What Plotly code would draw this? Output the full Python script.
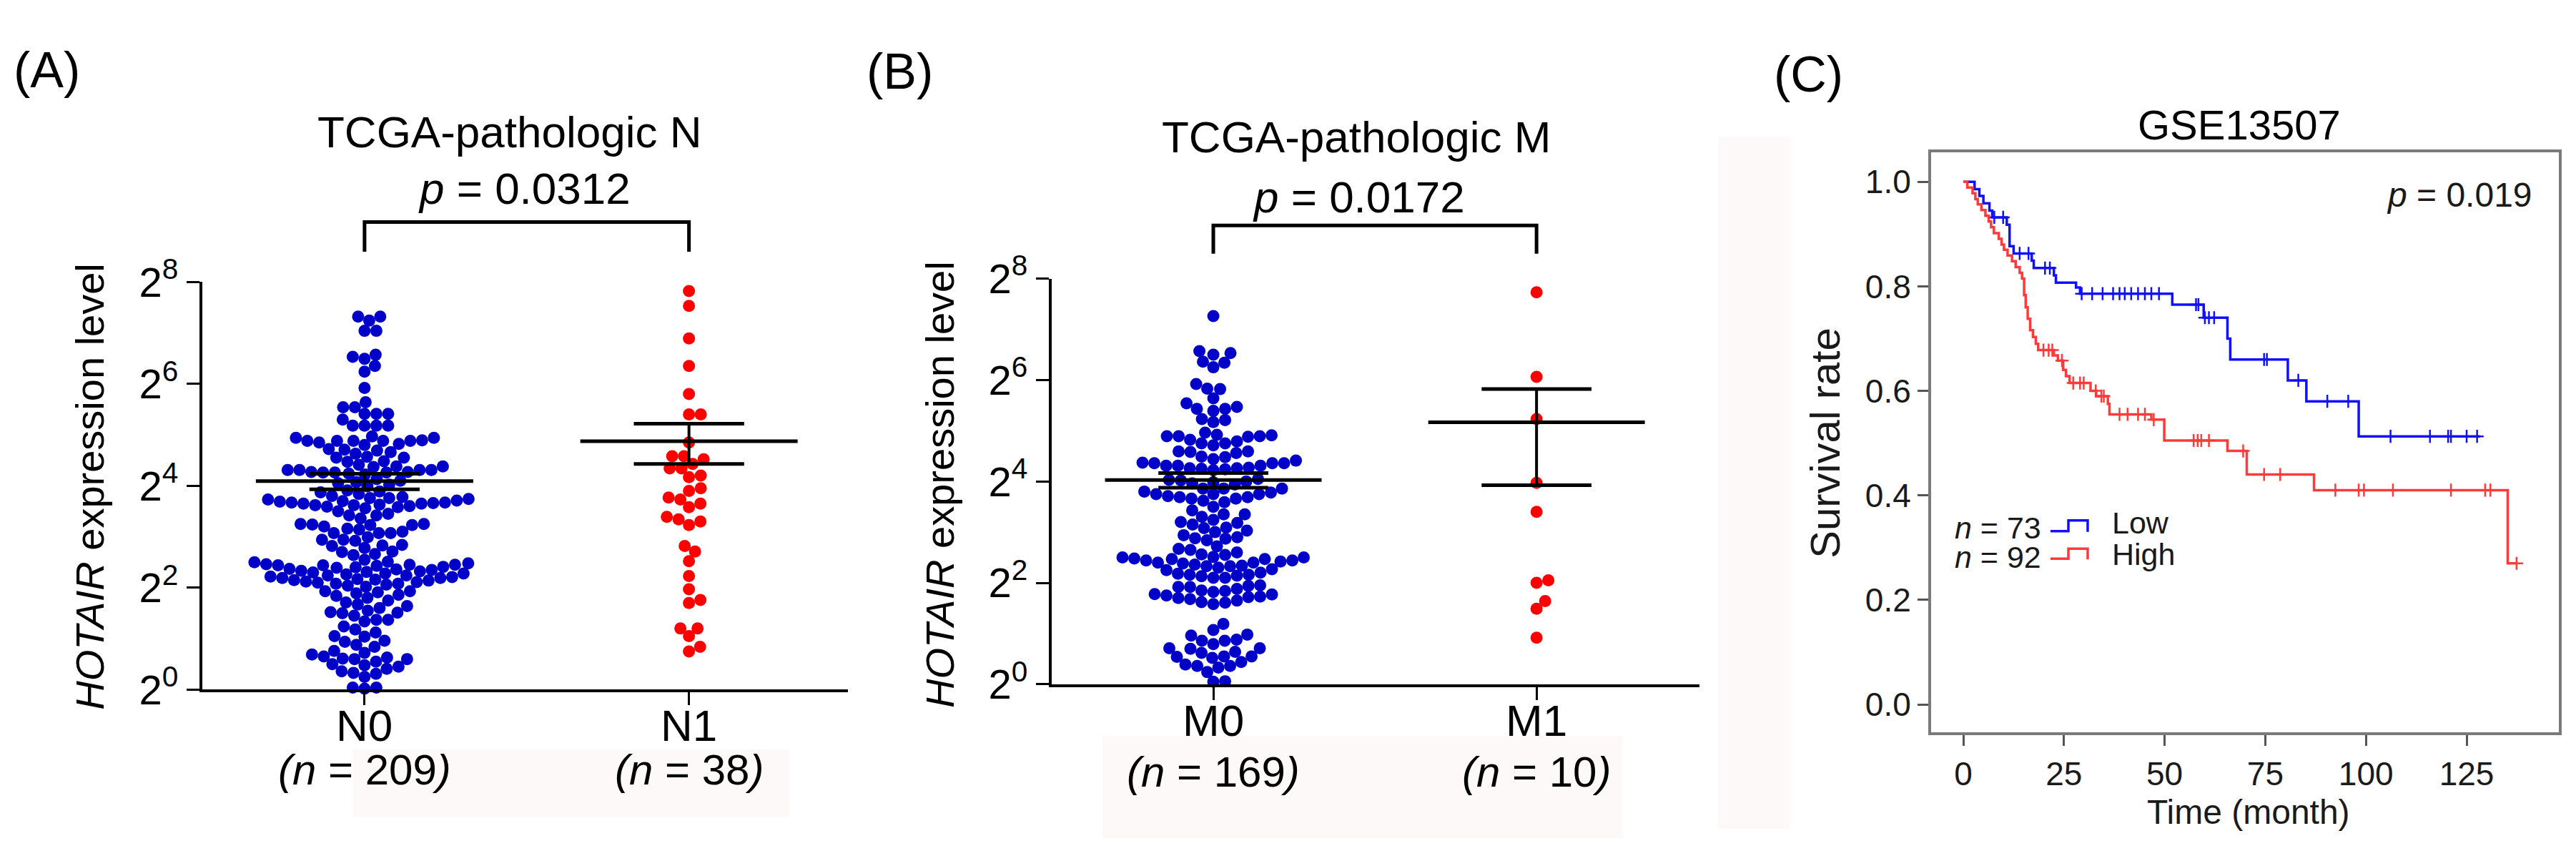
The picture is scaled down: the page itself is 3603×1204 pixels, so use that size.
import numpy as np
import plotly.graph_objects as go

W, H = 3603, 1204
FONT = "Liberation Sans, Arial, Helvetica, sans-serif"

# ---------------- data (log2 expression values) ----------------
n0_vals = [7.32, 7.24, 7.32, 7.04, 7.04, 6.53, 6.57, 6.49, 6.35, 6.24, 5.92, 5.64, 5.54, 5.54,
           5.41, 5.41, 5.41, 5.30, 5.18, 5.18, 5.18, 5.18,
           4.97, 4.94, 4.89, 4.88, 4.88, 4.82, 4.72, 4.69, 4.71, 4.80, 4.85, 4.88, 4.88, 4.88, 4.94,
           4.66, 4.57, 4.55, 4.47, 4.55, 4.63, 4.48,
           4.31, 4.31, 4.27, 4.24, 4.22, 4.38, 4.37, 4.31, 4.38, 4.41, 4.26, 4.26, 4.26, 4.27, 4.31,
           4.13, 4.10, 4.07, 4.05, 4.02, 3.99,
           3.89, 3.91, 3.78, 3.76, 3.71, 3.67, 3.65, 3.62, 3.56, 3.58, 3.62, 3.65, 3.67, 3.69, 3.73,
           3.76, 3.80, 3.87, 3.60, 3.63, 3.70, 3.74, 3.84, 3.59, 3.66,
           3.50, 3.42, 3.36, 3.42, 3.45,
           3.14, 3.07, 3.07, 3.25, 3.23, 3.20, 3.23, 3.24, 3.25, 3.07, 3.10, 3.16,
           2.94, 2.92, 2.82, 2.83, 2.84, 2.94, 2.99, 2.78,
           2.70, 2.64, 2.66, 2.71, 2.55,
           2.50, 2.46, 2.45, 2.45, 2.48, 2.51,
           2.44, 2.37, 2.35, 2.32, 2.28, 2.24, 2.19, 2.16, 2.12, 2.08, 2.08, 2.11, 2.15, 2.19, 2.24,
           2.28, 2.33, 2.36, 2.41, 2.44, 2.10, 2.14, 2.21, 2.26, 2.30, 2.39, 2.17, 2.06, 2.40,
           2.02, 2.04, 2.22, 2.31, 2.43,
           1.93, 1.93, 1.91, 1.84, 1.89, 1.80, 1.86,
           1.75, 1.67, 1.60, 1.64, 1.71, 1.51, 1.50, 1.52, 1.55, 1.45,
           1.37, 1.34, 1.37, 1.24,
           1.04, 0.96, 0.94, 1.05, 1.18, 1.12,
           0.84, 0.76, 0.69, 0.63, 0.61, 0.55, 0.60, 0.60, 0.65, 0.88, 0.72,
           0.48, 0.41, 0.50, 0.36, 0.31, 0.25, 0.33, 0.45,
           0.04, 0.02, 0.04]

n1_vals = [7.82, 7.53, 6.89, 6.35, 5.80, 5.40, 5.40, 4.58, 4.58, 4.52, 4.43, 4.34, 4.17, 4.34,
           3.95, 3.77, 3.65, 3.73, 3.90, 3.58, 3.39, 3.30, 3.23, 3.34, 2.71, 2.52, 2.82, 2.23,
           1.97, 1.70, 1.76, 1.05, 1.20, 1.20, 0.75, 0.84, 4.85, 4.20]

m0_vals = [7.26, 6.53, 6.57, 6.50, 6.36, 6.34, 6.25, 5.83, 5.92, 5.82, 5.64, 5.54,
           5.47, 5.43, 5.39, 5.43, 5.23, 5.17, 5.21,
           4.96, 4.91, 4.89, 4.88, 4.79, 4.75, 4.71, 4.75, 4.82, 4.89, 4.89, 4.92,
           4.56, 4.48, 4.41, 4.59, 4.59, 4.44, 4.49, 4.58,
           4.26, 4.25, 4.31, 4.36, 4.31, 4.27, 4.31, 4.36, 4.36, 4.37, 4.24, 4.26, 4.22,
           4.02, 4.00, 4.05, 3.98, 4.03, 3.94, 3.96,
           3.78, 3.75, 3.71, 3.69, 3.66, 3.66, 3.69, 3.75, 3.75, 3.80, 3.86, 3.86, 3.86, 3.62,
           3.50, 3.59,
           3.43, 3.35, 3.24, 3.15, 3.09, 3.18, 3.30, 3.35, 3.20,
           3.03, 2.94, 2.87, 2.72, 2.67, 2.65, 2.84, 2.88, 3.00, 3.08, 2.90,
           2.56, 2.51, 2.50, 2.47, 2.44, 2.40, 2.33, 2.33, 2.36, 2.40, 2.44, 2.47, 2.50, 2.55, 2.34,
           2.42, 2.38, 2.60, 2.48,
           2.27, 2.18, 2.16, 2.13, 2.10, 2.10, 2.14, 2.16, 2.25, 2.20, 2.30,
           1.92, 1.84, 1.78, 1.73, 1.68, 1.61, 1.58, 1.65, 1.72, 1.77, 1.82, 1.85, 1.92, 1.94, 1.95,
           1.70, 1.75, 1.88, 1.62,
           1.19, 0.98, 0.88, 0.86, 0.86, 0.96, 1.07,
           0.79, 0.71, 0.64, 0.55, 0.52, 0.44, 0.54, 0.55, 0.70, 0.71, 0.62,
           0.39, 0.36, 0.24, 0.33, 0.36,
           0.06, 0.05]

m1_vals = [7.73, 6.06, 5.23, 3.97, 3.40, 2.05, 2.00, 1.64, 1.49, 0.92]

group_labels_A = ["N0", "N1"]
group_n_A = [209, 38]
group_labels_B = ["M0", "M1"]
group_n_B = [169, 10]
ytick_vals = [0, 2, 4, 6, 8]
ytick_text = ["2<sup>%d</sup>" % v for v in ytick_vals]

# Kaplan-Meier (GSE13507)
low_t = [0, 2.8, 4.0, 5.0, 6.5, 7.2, 10.8, 11.5, 12.5, 17.0, 17.5, 22.5, 23.0, 28.0, 29.0,
         51.9, 59.7, 65.6, 66.3, 80.6, 85.2, 98.2]
low_s = [1.0, 0.986, 0.973, 0.959, 0.945, 0.932, 0.918, 0.877, 0.863, 0.849, 0.835, 0.821,
         0.807, 0.798, 0.786, 0.765, 0.740, 0.700, 0.660, 0.620, 0.580, 0.513]
low_end = 128.3
low_cens = [7.7, 9.9, 14.0, 16.2, 20.3, 21.5, 29.4, 32.0, 34.6, 37.2, 38.8, 40.1, 41.7, 43.4,
            45.1, 46.7, 48.6, 57.8, 58.4, 60.0, 61.0, 62.3, 74.7, 75.4, 83.2, 90.4, 95.6,
            106.1, 115.9, 120.4, 121.1, 125.0, 127.6]

high_t = [0, 1.0, 2.3, 3.0, 3.6, 4.5, 5.5, 6.3, 6.9, 7.6, 8.8, 9.5, 10.1, 11.0, 12.1, 13.0,
          14.0, 14.6, 15.1, 15.5, 16.0, 16.6, 17.3, 18.0, 18.6, 22.5, 23.5, 24.8, 25.5, 26.4,
          31.6, 33.0, 35.9, 36.3, 46.7, 49.9, 65.6, 70.4, 87.1, 135.2]
high_s = [1.0, 0.989, 0.978, 0.967, 0.957, 0.946, 0.935, 0.924, 0.913, 0.902, 0.891, 0.880,
          0.870, 0.859, 0.848, 0.837, 0.826, 0.815, 0.783, 0.760, 0.738, 0.716, 0.703, 0.690,
          0.678, 0.668, 0.658, 0.640, 0.628, 0.615, 0.600, 0.590, 0.575, 0.555, 0.545, 0.505,
          0.485, 0.440, 0.410, 0.270]
high_end = 137.4
high_cens = [19.9, 21.2, 22.1, 24.5, 27.3, 29.0, 29.9, 32.9, 34.3, 34.9, 38.8, 40.8, 43.4,
             45.1, 47.3, 57.2, 58.2, 59.1, 61.0, 69.5, 74.7, 78.7, 92.4, 98.2, 99.5, 106.7,
             121.1, 129.6, 130.9, 137.4]

# ---------------- layout geometry (pixels) ----------------
def PX(x):
    return x / W


def PY(y):
    return 1 - y / H


panelA = dict(x0=283, x1=1186, y0=983, y1=376, xr=(-0.5, 1.49), yr=(0, 8))
panelB = dict(x0=1471, x1=2377, y0=975, y1=371, xr=(-0.5, 1.504), yr=(0, 8))
panelC = dict(x0=2701, x1=3579, y0=1046, y1=183, xr=(-7.99, 147.9), yr=(-0.0527, 1.0566))

BLUE_DOT = "#0000C8"
RED_DOT = "#FF0000"


def swarm(vals, xppu, yppu, d=16.5):
    v = np.asarray(vals, float)
    order = np.argsort(v, kind="stable")
    cand = np.array([0.0] + [s * k * 0.5 for k in range(1, 700) for s in (1, -1)])
    pxs, pys = [], []
    off = np.zeros(len(v))
    for i in order:
        y = v[i] * yppu
        c = 0.0
        if pxs:
            P = np.array(pxs)
            Q = np.array(pys)
            m = np.abs(Q - y) < d
            if m.any():
                P, Q = P[m], Q[m]
                ok = ((cand[:, None] - P[None, :]) ** 2 + (y - Q[None, :]) ** 2 >= d * d).all(axis=1)
                c = cand[np.argmax(ok)]
        off[i] = c
        pxs.append(c)
        pys.append(y)
    return off / xppu


def mean_sem(vals):
    lin = 2.0 ** np.asarray(vals, float)
    m = lin.mean()
    s = lin.std(ddof=1) / np.sqrt(len(lin))
    return np.log2(m), np.log2(m + s), np.log2(m - s)


fig = go.Figure()

annotations = []
shapes = []


def ann(text, x, y, size, xanchor="center", yanchor="middle", xref="paper", angle=0, color="#000"):
    annotations.append(dict(text=text, x=x, y=y, xref=xref, yref="paper", showarrow=False,
                            xanchor=xanchor, yanchor=yanchor, textangle=angle,
                            font=dict(family=FONT, size=size, color=color)))


def dot_panel(p, xa, ya, groups, labels, ns, title, title_y, ptext, ptext_y, ptext_x, title_x,
              lab_y, n_y, ytitle_x, ytitle_y, brk):
    xppu = (p["x1"] - p["x0"]) / (p["xr"][1] - p["xr"][0])
    yppu = (p["y0"] - p["y1"]) / (p["yr"][1] - p["yr"][0])
    xn = "x" if xa == "xaxis" else "x" + xa[5:]
    yn = "y" if ya == "yaxis" else "y" + ya[5:]
    for gi, (vals, col) in enumerate(zip(groups, [BLUE_DOT, RED_DOT])):
        off = swarm(vals, xppu, yppu)
        fig.add_trace(go.Scatter(x=gi + off, y=vals, mode="markers", xaxis=xn, yaxis=yn,
                                 marker=dict(size=17, color=col, line=dict(width=0)),
                                 cliponaxis=False, showlegend=False, hoverinfo="skip"))
    for gi, vals in enumerate(groups):
        mu, hi, lo = mean_sem(vals)
        line = dict(color="black", width=5)
        fig.add_trace(go.Scatter(x=[gi - 0.335, gi + 0.335], y=[mu, mu], mode="lines",
                                 xaxis=xn, yaxis=yn, line=line, showlegend=False, hoverinfo="skip"))
        for yy in (hi, lo):
            fig.add_trace(go.Scatter(x=[gi - 0.17, gi + 0.17], y=[yy, yy], mode="lines",
                                     xaxis=xn, yaxis=yn, line=line, showlegend=False,
                                     hoverinfo="skip"))
        fig.add_trace(go.Scatter(x=[gi, gi], y=[lo, hi], mode="lines", xaxis=xn, yaxis=yn,
                                 line=dict(color="black", width=4), showlegend=False,
                                 hoverinfo="skip"))
    axstyle = dict(showline=True, linecolor="black", linewidth=4, ticks="outside", ticklen=18,
                   tickwidth=3, tickcolor="black", showgrid=False, zeroline=False, fixedrange=True)
    fig.update_layout(**{
        xa: dict(domain=[PX(p["x0"]), PX(p["x1"])], range=list(p["xr"]), tickvals=[0, 1],
                 showticklabels=False, anchor=yn, **axstyle),
        ya: dict(domain=[PY(p["y0"]), PY(p["y1"])], range=list(p["yr"]), tickvals=ytick_vals,
                 ticktext=ytick_text, anchor=xn,
                 tickfont=dict(family=FONT, size=58, color="black"), **axstyle),
    })
    for gi in range(2):
        ann(labels[gi], gi, PY(lab_y), 62, xref=xn)
        ann("<i>(n</i> = %d<i>)</i>" % ns[gi], gi, PY(n_y), 60, xref=xn)
    ann(title, PX(title_x), PY(title_y), 62)
    ann(ptext, PX(ptext_x), PY(ptext_y), 62)
    ann("<i>HOTAIR</i> expression level", PX(ytitle_x), PY(ytitle_y), 56, angle=-90)
    # significance bracket
    shapes.append(dict(type="path", xref=xn, yref="paper", layer="above",
                       path="M 0,%f L 0,%f L 1,%f L 1,%f" % (PY(brk[1]), PY(brk[0]),
                                                             PY(brk[0]), PY(brk[1])),
                       line=dict(color="black", width=5)))


# faint tinted patches seen in the picture
for (x0, y0, x1, y1) in [(494, 1072, 1104, 1172), (1542, 1052, 2270, 1204), (2403, 160, 2503, 1190)]:
    shapes.append(dict(type="rect", xref="paper", yref="paper", x0=PX(x0), x1=PX(x1),
                       y0=PY(y1), y1=PY(y0), fillcolor="#fdf9f8", line=dict(width=0),
                       layer="below"))

dot_panel(panelA, "xaxis", "yaxis", [n0_vals, n1_vals], group_labels_A, group_n_A,
          "TCGA-pathologic N", 153, "<i>p</i> = 0.0312", 237, 733, 713, 1036, 1102, 126, 681,
          (287, 331))
dot_panel(panelB, "xaxis2", "yaxis2", [m0_vals, m1_vals], group_labels_B, group_n_B,
          "TCGA-pathologic M", 160, "<i>p</i> = 0.0172", 250, 1900, 1897, 1029, 1106, 1315, 678,
          (292, 334))

ann("(A)", PX(65), PY(61), 70)
ann("(B)", PX(1258), PY(63), 70)
ann("(C)", PX(2529), PY(67), 70)

# ---------------- Kaplan-Meier panel ----------------
def step_at(ts, ss, t):
    idx = np.searchsorted(np.asarray(ts), t, side="right") - 1
    return np.asarray(ss)[idx]


LOW_C = "#1010FF"
HIGH_C = "#FF3A3A"
for ts, ss, end, cens, col in [(low_t, low_s, low_end, low_cens, LOW_C),
                               (high_t, high_s, high_end, high_cens, HIGH_C)]:
    fig.add_trace(go.Scatter(x=list(ts) + [end], y=list(ss) + [ss[-1]], mode="lines",
                             line=dict(shape="hv", color=col, width=3.5), xaxis="x3", yaxis="y3",
                             showlegend=False, hoverinfo="skip"))
    fig.add_trace(go.Scatter(x=cens, y=step_at(ts, ss, np.asarray(cens)), mode="markers",
                             marker=dict(symbol="cross-thin", size=13,
                                         line=dict(color=col, width=2.5)),
                             xaxis="x3", yaxis="y3", showlegend=False, hoverinfo="skip",
                             cliponaxis=False))

cstyle = dict(showline=True, mirror=True, linecolor="#7a7a7a", linewidth=4, ticks="outside",
              ticklen=15, tickwidth=3, tickcolor="#555555", showgrid=False, zeroline=False,
              tickfont=dict(family=FONT, size=46, color="#1a1a1a"), fixedrange=True)
fig.update_layout(
    xaxis3=dict(domain=[PX(panelC["x0"]), PX(panelC["x1"])], range=list(panelC["xr"]),
                tickvals=[0, 25, 50, 75, 100, 125], anchor="y3", **cstyle),
    yaxis3=dict(domain=[PY(panelC["y0"]), PY(panelC["y1"])], range=list(panelC["yr"]),
                tickvals=[0, 0.2, 0.4, 0.6, 0.8, 1.0], tickformat=".1f", anchor="x3", **cstyle),
)
ann("GSE13507", PX(3132), PY(142), 58)
ann("<i>p</i> = 0.019", PX(3544), PY(246), 48, xanchor="right", color="#1a1a1a")
ann("Survival rate", PX(2553), PY(616), 58, angle=-90, color="#1a1a1a")
ann("Time (month)", PX(3145), PY(1165), 48, color="#1a1a1a")
ann("<i>n</i> = 73", PX(2857), PY(742), 43, xanchor="right", color="#1a1a1a")
ann("<i>n</i> = 92", PX(2857), PY(786), 43, xanchor="right", color="#1a1a1a")
ann("Low", PX(2952), PY(735), 43, xanchor="left", color="#1a1a1a")
ann("High", PX(2952), PY(781), 43, xanchor="left", color="#1a1a1a")
for (ylow, yhigh, col) in [(747, 731, LOW_C), (788, 773, HIGH_C)]:
    path = "M %f,%f L %f,%f L %f,%f L %f,%f L %f,%f" % (
        PX(2868), PY(ylow), PX(2893), PY(ylow), PX(2893), PY(yhigh), PX(2920), PY(yhigh),
        PX(2920), PY(ylow + 1))
    shapes.append(dict(type="path", xref="paper", yref="paper", path=path,
                       line=dict(color=col, width=3.5)))

fig.update_layout(width=W, height=H, margin=dict(l=0, r=0, t=0, b=0), paper_bgcolor="white",
                  plot_bgcolor="rgba(0,0,0,0)", annotations=annotations, shapes=shapes,
                  showlegend=False, font=dict(family=FONT))
fig.write_html("out.html")
